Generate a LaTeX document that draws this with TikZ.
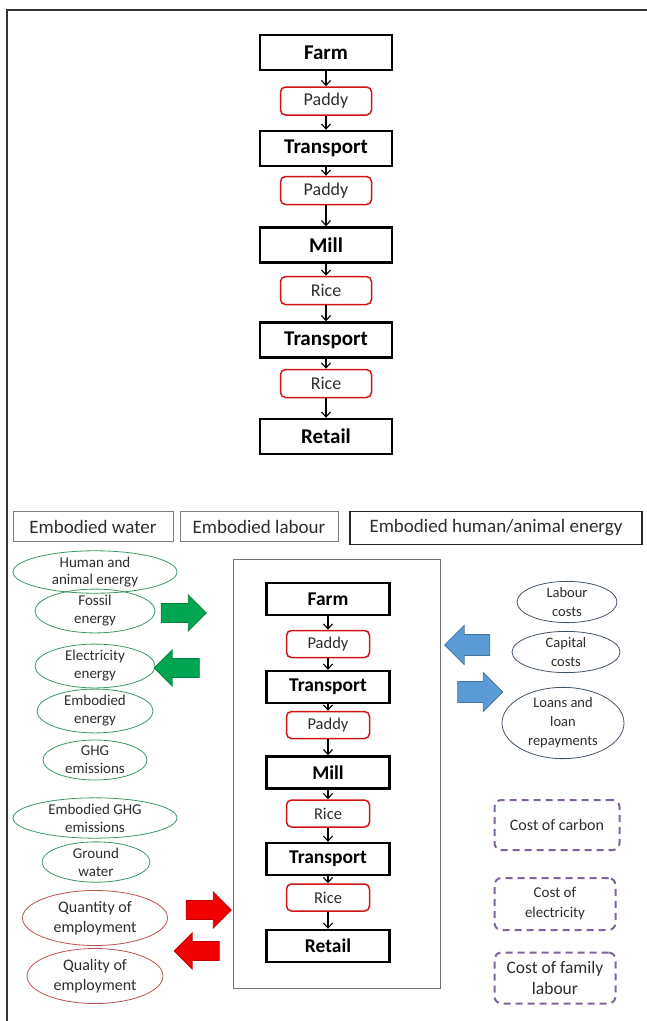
\documentclass[tikz,border=0pt]{standalone}
\usepackage{fontspec}
\setmainfont{Carlito}
\usetikzlibrary{arrows.meta,shapes.geometric,shapes.arrows,positioning}
\definecolor{goodred}{RGB}{210,20,20}
\definecolor{ellgreen}{RGB}{60,150,100}
\definecolor{ellred}{RGB}{192,80,77}
\definecolor{ellslate}{RGB}{68,84,106}
\definecolor{costpurple}{RGB}{128,100,162}
\definecolor{arrgreen}{RGB}{0,166,81}
\definecolor{arrblue}{RGB}{91,155,213}
\definecolor{arrred}{RGB}{240,0,0}
\definecolor{txtgray}{RGB}{45,45,45}

\begin{document}
\begin{tikzpicture}[x=1pt,y=-1pt,
    stage/.style={draw,line width=2.4pt,minimum width=132pt,minimum height=35pt,inner sep=0pt,font=\fontsize{21}{23}\selectfont\bfseries},
    good/.style={draw=goodred,line width=1.5pt,rounded corners=5pt,minimum width=91pt,minimum height=28pt,inner sep=0pt,text=txtgray,font=\fontsize{18}{20}\selectfont},
    stagein/.style={stage,minimum width=123pt,minimum height=32pt,font=\fontsize{19.5}{21}\selectfont\bfseries},
    goodin/.style={good,minimum width=83pt,minimum height=27pt,font=\fontsize{16.5}{18}\selectfont},
    flow/.style={-{Straight Barb[length=5pt,width=9pt]},line width=1.1pt},
    head/.style={draw=black!50,line width=0.8pt,minimum height=30pt,inner sep=0pt,text=txtgray,font=\fontsize{19}{21}\selectfont},
    ell/.style={ellipse,draw=ellgreen,line width=0.8pt,inner sep=0pt,align=center,text=txtgray,font=\fontsize{15}{18}\selectfont},
    ellr/.style={ell,draw=ellred,font=\fontsize{16}{20}\selectfont},
    ells/.style={ell,draw=ellslate,font=\fontsize{14.5}{19}\selectfont},
    cost/.style={draw=costpurple,line width=2pt,dash pattern=on 7pt off 5pt,rounded corners=7pt,inner sep=0pt,align=center,text=txtgray,font=\fontsize{16}{20}\selectfont},
    bigarrow/.style={single arrow,minimum height=45pt,inner xsep=0pt,inner ysep=9pt,single arrow head extend=8.5pt,line width=0.8pt}
]
\useasboundingbox (0,0) rectangle (646,1021);
\draw[line width=1.2pt,black!80] (7,10) rectangle (700,1100);

\node[stage] (farm) at (326,52.5) {Farm};
\node[good] (pad1) at (326,101) {Paddy};
\node[stage] (tra1) at (326,148.5) {Transport};
\node[good] (pad2) at (326,190.5) {Paddy};
\node[stage] (mill) at (326,245) {Mill};
\node[good] (ric1) at (326,290.5) {Rice};
\node[stage] (tra2) at (326,340) {Transport};
\node[good] (ric2) at (326,383.5) {Rice};
\node[stage] (ret) at (326,436.5) {Retail};
\draw[flow] (farm) -- (pad1);
\draw[flow] (pad1) -- (tra1);
\draw[flow] (tra1) -- (pad2);
\draw[flow] (pad2) -- (mill);
\draw[flow] (mill) -- (ric1);
\draw[flow] (ric1) -- (tra2);
\draw[flow] (tra2) -- (ric2);
\draw[flow] (ric2) -- (ret);

\node[head,minimum width=160pt] (hwat) at (93,526.5) {Embodied water};
\node[head,minimum width=158pt] (hlab) at (259,526.5) {Embodied labour};
\node[head,draw=black!85,line width=1.3pt,minimum width=292pt,minimum height=33pt] (hhum) at (496,528) {Embodied human/animal energy};

\draw[black!55,line width=0.8pt] (233,559) rectangle (440,988);
\node[stagein] (farmb) at (328,599) {Farm};
\node[goodin] (pad1b) at (328,644) {Paddy};
\node[stagein] (tra1b) at (328,687) {Transport};
\node[goodin] (pad2b) at (328,725) {Paddy};
\node[stagein] (millb) at (328,772.5) {Mill};
\node[goodin] (ric1b) at (328,813.5) {Rice};
\node[stagein] (tra2b) at (328,859) {Transport};
\node[goodin] (ric2b) at (328,897.5) {Rice};
\node[stagein] (retb) at (328,946) {Retail};
\draw[flow] (farmb) -- (pad1b);
\draw[flow] (pad1b) -- (tra1b);
\draw[flow] (tra1b) -- (pad2b);
\draw[flow] (pad2b) -- (millb);
\draw[flow] (millb) -- (ric1b);
\draw[flow] (ric1b) -- (tra2b);
\draw[flow] (tra2b) -- (ric2b);
\draw[flow] (ric2b) -- (retb);

\node[ell,minimum width=164pt,minimum height=37pt,font=\fontsize{15}{17}\selectfont] (hae) at (95,572) {Human and\\animal energy};
\node[ell,minimum width=120pt,minimum height=38pt] (fos) at (95,611) {Fossil\\energy};
\node[ell,minimum width=120pt,minimum height=38pt] (ele) at (95,666) {Electricity\\energy};
\node[ell,minimum width=116pt,minimum height=42pt] (emb) at (95,711) {Embodied\\energy};
\node[ell,minimum width=104pt,minimum height=40pt] (ghg) at (95,760) {GHG\\emissions};
\node[ell,minimum width=164pt,minimum height=40pt] (egh) at (95,818) {Embodied GHG\\emissions};
\node[ell,minimum width=108pt,minimum height=37pt] (gw) at (96,862) {Ground\\water};
\node[ellr,minimum width=145pt,minimum height=55pt] (qty) at (95,918) {Quantity of\\employment};
\node[ellr,minimum width=136pt,minimum height=55pt] (qly) at (95,976) {Quality of\\employment};

\node[ells,minimum width=100pt,minimum height=39pt] (lab) at (567,602) {Labour\\costs};
\node[ells,minimum width=108pt,minimum height=39pt] (cap) at (566,652) {Capital\\costs};
\node[ells,minimum width=122pt,minimum height=63pt] (loan) at (563,723) {Loans and\\loan\\repayments};

\node[cost,minimum width=125pt,minimum height=50pt] (ccarb) at (557,825) {Cost of carbon};
\node[cost,minimum width=121pt,minimum height=52pt,font=\fontsize{15}{20}\selectfont] (celec) at (555,904) {Cost of\\electricity};
\node[cost,minimum width=121pt,minimum height=51pt,font=\fontsize{17.5}{21}\selectfont] (cfam) at (555,978) {Cost of family\\labour};

\node[bigarrow,fill=arrgreen,draw=arrgreen!80!black] (ga1) at (179,613) {};
\node[bigarrow,fill=arrgreen,draw=arrgreen!80!black,shape border rotate=180] (ga2) at (181.5,668) {};
\node[bigarrow,fill=arrblue,draw=arrblue!75!black,shape border rotate=180,inner ysep=10pt,single arrow head extend=9pt] (ba1) at (472.5,645) {};
\node[bigarrow,fill=arrblue,draw=arrblue!75!black,inner ysep=10pt,single arrow head extend=9pt] (ba2) at (475,692) {};
\node[bigarrow,fill=arrred,draw=arrred!80!black] (ra1) at (204,910) {};
\node[bigarrow,fill=arrred,draw=arrred!80!black,shape border rotate=180] (ra2) at (201.5,951) {};
\end{tikzpicture}
\end{document}
